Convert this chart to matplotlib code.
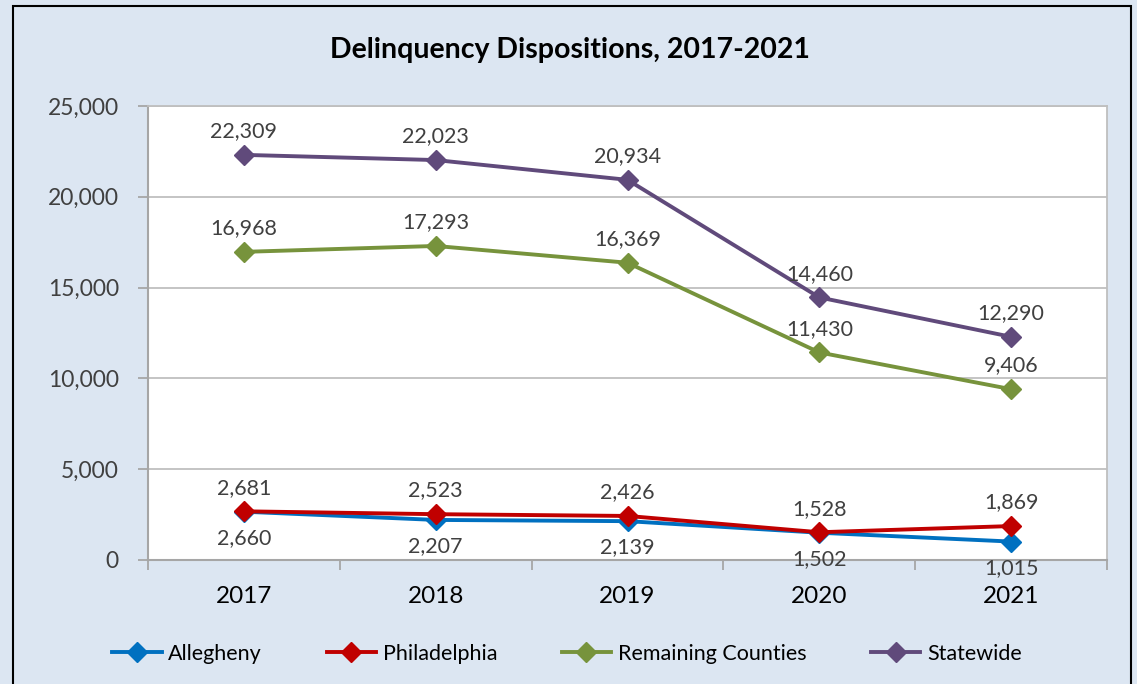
import matplotlib
matplotlib.use("Agg")
import matplotlib.pyplot as plt
from matplotlib.patches import Rectangle
from matplotlib.ticker import FuncFormatter

years = ["2017", "2018", "2019", "2020", "2021"]
allegheny = [2660, 2207, 2139, 1502, 1015]
philadelphia = [2681, 2523, 2426, 1528, 1869]
remaining = [16968, 17293, 16369, 11430, 9406]
statewide = [22309, 22023, 20934, 14460, 12290]

series = [
    ("Allegheny", allegheny, "#0070C0", "below"),
    ("Philadelphia", philadelphia, "#C00000", "above"),
    ("Remaining Counties", remaining, "#77933C", "above"),
    ("Statewide", statewide, "#604A7B", "above"),
]

plt.rcParams['font.family'] = ['Lato', 'DejaVu Sans']
BG = "#DCE6F2"
fig = plt.figure(figsize=(11.37, 6.84), dpi=100, facecolor=BG)
fig.patches.append(Rectangle((13 / 1137, -0.1), (1131 - 13) / 1137, 1.1 - 6 / 684,
                             transform=fig.transFigure, fill=False, edgecolor="black",
                             linewidth=1.5, zorder=10))

ax = fig.add_axes([148 / 1137, 124 / 684, 959 / 1137, 454 / 684])
ax.set_facecolor("white")
x = list(range(len(years)))
for name, vals, col, pos in series:
    ax.plot(x, vals, color=col, linewidth=2.8, marker="D", markersize=10,
            label=name, solid_joinstyle="round", zorder=3)
    for xi, v in zip(x, vals):
        dy = 17 if pos == "above" else -19
        ax.annotate(f"{v:,}", (xi, v), xytext=(0, dy), textcoords="offset points",
                    ha="center", va="center", fontsize=15.5, color="#404040",
                    zorder=4)

ax.set_xlim(-0.5, 4.5)
ax.set_ylim(0, 25000)
ax.set_yticks(range(0, 25001, 5000))
ax.yaxis.set_major_formatter(FuncFormatter(lambda v, p: f"{int(v):,}"))
ax.set_xticks(x)
ax.set_xticklabels(years)
ax.set_xticks([i - 0.5 for i in range(len(years) + 1)], minor=True)
ax.tick_params(axis="x", which="major", length=0, pad=19, labelsize=17.5, labelcolor="black")
ax.tick_params(axis="x", which="minor", length=7, width=1.3, color="#A6A6A6", direction="out")
ax.tick_params(axis="y", which="major", length=7, width=1.3, color="#A6A6A6", pad=14,
               labelsize=16.5, labelcolor="#404040")
ax.grid(axis="y", color="#BFBFBF", linewidth=1.3, zorder=0)
ax.set_axisbelow(True)
for s in ["top", "right"]:
    ax.spines[s].set_color("#BFBFBF")
    ax.spines[s].set_linewidth(1.3)
for s in ["left", "bottom"]:
    ax.spines[s].set_color("#A6A6A6")
    ax.spines[s].set_linewidth(1.5)

fig.text(570 / 1137, 1 - 50 / 684, "Delinquency Dispositions, 2017-2021", ha="center",
         va="center", fontsize=20.5, fontweight="bold", color="black")

leg = fig.legend(loc="center", bbox_to_anchor=(567 / 1137, 30 / 684), ncol=4, frameon=False,
                 fontsize=15.5, handlelength=2.3, columnspacing=3.0, handletextpad=0.3)

fig.savefig("out.png", dpi=100, facecolor=BG)
